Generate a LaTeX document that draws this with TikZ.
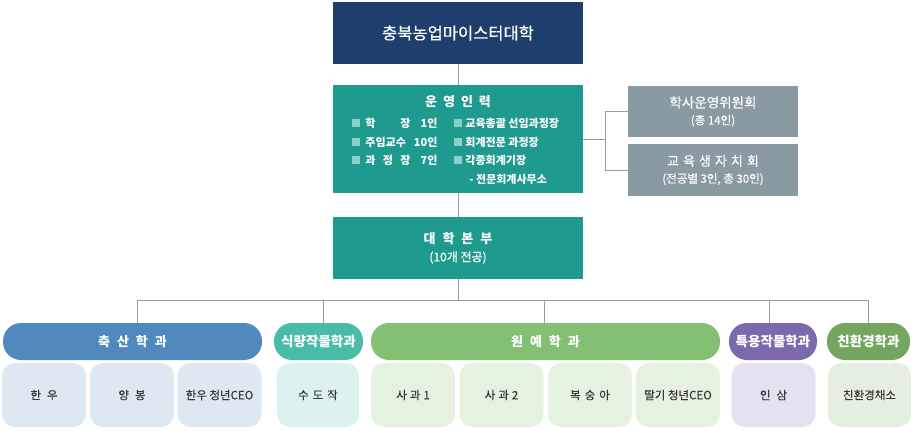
\documentclass[tikz,border=0pt]{standalone}
\usepackage{fontspec}
\setmainfont{Noto Sans CJK KR}
\newfontfamily\medium[FakeBold=0.35]{Noto Sans CJK KR}
\usetikzlibrary{calc}

\definecolor{navy}{HTML}{1E3F6C}
\definecolor{teal}{HTML}{1F9A8F}
\definecolor{comgray}{HTML}{8A9AA3}
\definecolor{linegray}{HTML}{9C9C9C}
\definecolor{bulletc}{HTML}{8CCFC7}
\definecolor{subtext}{HTML}{383838}
\definecolor{cattle}{HTML}{5089BE}
\definecolor{cattlelt}{HTML}{DDE8F3}
\definecolor{cropc}{HTML}{48BCA6}
\definecolor{croplt}{HTML}{DDF2EE}
\definecolor{hort}{HTML}{83C073}
\definecolor{hortlt}{HTML}{E5F2E0}
\definecolor{spec}{HTML}{7B69AE}
\definecolor{speclt}{HTML}{E4E1F0}
\definecolor{eco}{HTML}{74A660}
\definecolor{ecolt}{HTML}{E4EFE0}

\newcommand\lsp{\hspace{7pt}}
\newcommand\fs[1]{\fontsize{#1}{#1}\selectfont}
\newcommand\staffrow[2]{\makebox[45pt][s]{#1}\hspace{3pt}\makebox[24pt][r]{#2}}

\begin{document}
\begin{tikzpicture}[x=1pt, y=-1pt, line width=0.8pt,
  link/.style={draw=linegray},
  hbox/.style={fill=#1, text=white, inner sep=0pt, minimum width=250pt, align=center},
  cbox/.style={fill=comgray, text=white, inner sep=0pt, minimum width=170pt, align=center},
  pill/.style={fill=#1, text=white, rounded corners=18pt, minimum height=37pt, inner sep=0pt, font=\fs{13}\bfseries},
  sub/.style={fill=#1, text=subtext, rounded corners=13pt, minimum width=84pt, minimum height=64pt, inner sep=0pt, font=\fs{11.5}\medium},
  sqbullet/.style={fill=bulletc, minimum size=8pt, inner sep=0pt},
  item/.style={anchor=west, text=white, inner sep=0pt, font=\fs{11}\bfseries}]
  \useasboundingbox (0,0) rectangle (913,431);

  \node[hbox=navy, minimum height=62pt, font=\fs{16.5}\medium] (univ) at (458,33) {충북농업마이스터대학};
  \node[hbox=teal, minimum height=108pt] (staff) at (458,139) {};
  \node[hbox=teal, minimum height=62pt] (hq) at (458,248)
    {{\fs{13}\bfseries 대\lsp 학\lsp 본\lsp 부}\\[6pt]{\fs{12}\medium(10개 전공)}};

  \node[text=white, inner sep=0pt, font=\fs{13}\bfseries] (staffhead) at (458,102) {운\hspace{6pt}영\hspace{6pt}인\hspace{6pt}력};
  \foreach \y [count=\i] in {123,142,160} {
    \node[sqbullet] (ql\i) at (356,\y) {};
    \node[sqbullet] (qr\i) at (458,\y) {};
  }
  \node[item] (s1) at (365,123) {\staffrow{학\hfill 장}{1인}};
  \node[item] (s2) at (365,142) {\staffrow{주임교수}{10인}};
  \node[item] (s3) at (365,160) {\staffrow{과\hfill 정\hfill 장}{7인}};
  \node[item] (r1) at (465,123) {교육총괄 선임과정장};
  \node[item] (r2) at (465,142) {회계전문 과정장};
  \node[item] (r3) at (465,160) {각종회계기장};
  \node[item] (r4) at (469,179) {- 전문회계사무소};

  \node[cbox, minimum height=51pt] (council) at (713,111.5)
    {{\fs{13.5}\medium 학사운영위원회}\\[5pt]{\fs{11.5}\medium(총 14인)}};
  \node[cbox, minimum height=52pt] (union) at (713,170)
    {{\fs{13}\medium 교\hspace{4pt}육\hspace{4pt}생\hspace{4pt}자\hspace{4pt}치\hspace{4pt}회}\\[5pt]{\fs{11.5}\medium(전공별 3인, 총 30인)}};

  \node[pill=cattle, minimum width=259pt] (livestock) at (132.5,341.5) {축\lsp 산\lsp 학\lsp 과};
  \node[pill=cropc, minimum width=89pt, font=\fs{13.5}\bfseries] (crop) at (318.5,341.5) {식량작물학과};
  \node[pill=hort, minimum width=349pt] (horti) at (545.5,341.5) {원\lsp 예\lsp 학\lsp 과};
  \node[pill=spec, minimum width=88pt, font=\fs{13.5}\bfseries] (special) at (773,341.5) {특용작물학과};
  \node[pill=eco, minimum width=83pt, font=\fs{13.5}\bfseries] (envir) at (868.5,341.5) {친환경학과};

  \node[sub=cattlelt] (hanwoo) at (44,395) {한\hspace{6pt}우};
  \node[sub=cattlelt] (bee) at (132,395) {양\hspace{6pt}봉};
  \node[sub=cattlelt] (hanceo) at (219.5,395) {한우 청년CEO};
  \node[sub=croplt, minimum width=82pt] (rice) at (318,395) {수\hspace{4pt}도\hspace{4pt}작};
  \node[sub=hortlt] (apple1) at (413,395) {사\hspace{3pt}과\hspace{3pt}1};
  \node[sub=hortlt] (apple2) at (501.5,395) {사\hspace{3pt}과\hspace{3pt}2};
  \node[sub=hortlt] (peach) at (590,395) {복\hspace{4pt}숭\hspace{4pt}아};
  \node[sub=hortlt] (berry) at (678,395) {딸기 청년CEO};
  \node[sub=speclt] (ginseng) at (773.5,395) {인\hspace{6pt}삼};
  \node[sub=ecolt, minimum width=83pt] (veg) at (869.5,395) {친환경채소};

  \draw[link] (univ) -- (staff);
  \draw[link] (staff) -- (hq);
  \draw[link] (staff.east) -- ++(22,0) coordinate (fork);
  \draw[link] (council.west) -| (fork) |- (union.west);
  \draw[link] (hq.south) -- ++(0,21) coordinate (bus);
  \draw[link] (bus) -| ([xshift=4.5pt]livestock.north);
  \draw[link] (bus) -| ([xshift=4.5pt]crop.north);
  \draw[link] (bus) -| ([xshift=-1.5pt]horti.north);
  \draw[link] (bus) -| ([xshift=-4pt]special.north);
  \draw[link] (bus) -| (envir.north);
\end{tikzpicture}
\end{document}
